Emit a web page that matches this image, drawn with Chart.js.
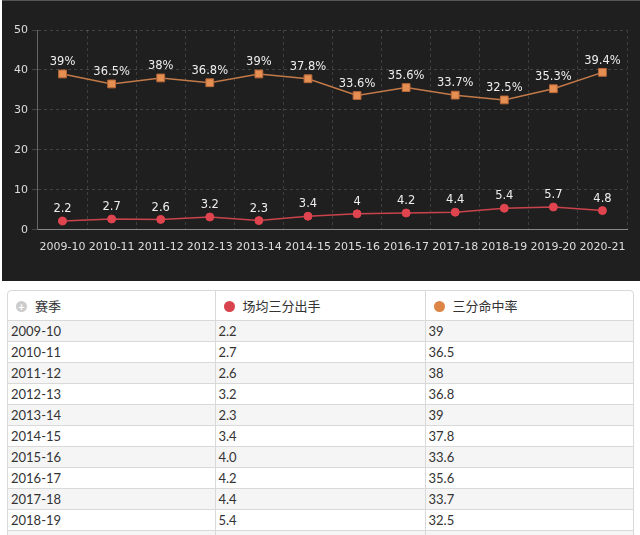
<!DOCTYPE html>
<html>
<head>
<meta charset="utf-8">
<script src="https://cdn.jsdelivr.net/npm/chart.js@4"></script>
<style>
  html, body { margin: 0; padding: 0; background: #fff; width: 640px; height: 535px; overflow: hidden; }
  #panel { position: absolute; left: 2px; top: 0; width: 638px; height: 281px; background: #1f1f1f; border-top: 1px solid #555; box-sizing: border-box; }
  #panel canvas { display: block; }
  #wrap { position: absolute; left: 7px; top: 290px; width: 625px; border: 1px solid #d9d9d9; border-radius: 4px; overflow: hidden; }
  table { border-collapse: collapse; width: 100%; font-family: Lato, "Noto Sans CJK SC", sans-serif; font-size: 13px; color: #333; table-layout: fixed; }
  th, td { border-right: 1px solid #d9d9d9; border-bottom: 1px solid #d9d9d9; text-align: left; padding: 0 3px; }
  th:last-child, td:last-child { border-right: none; }
  th { height: 29px; font-weight: normal; padding-left: 8px; }
  td { height: 20px; }
  tbody tr:nth-child(odd) { background: #f5f5f5; }
  .dot { display: inline-block; width: 11px; height: 11px; border-radius: 50%; vertical-align: -1px; margin-right: 8px; }
  .plus { display: inline-block; width: 11px; height: 11px; border-radius: 50%; background: #ccc; color: #fff; font-size: 11px; line-height: 11px; text-align: center; margin-right: 8px; font-weight: bold; }
</style>
</head>
<body>
<div id="panel"><canvas id="chart" width="638" height="280"></canvas></div>
<div id="wrap">
  <table>
    <colgroup><col style="width:207px"><col style="width:210px"><col></colgroup>
    <thead>
      <tr>
        <th><span class="plus">+</span>赛季</th>
        <th><span class="dot" style="background:#d9434d"></span>场均三分出手</th>
        <th><span class="dot" style="background:#dd8447"></span>三分命中率</th>
      </tr>
    </thead>
    <tbody id="rows"></tbody>
  </table>
</div>
<script>
// seasons
const seasons = ["2009-10", "2010-11", "2011-12", "2012-13", "2013-14", "2014-15", "2015-16", "2016-17", "2017-18", "2018-19", "2019-20", "2020-21"];
// 场均三分出手
const attempts = [2.2, 2.7, 2.6, 3.2, 2.3, 3.4, 4.0, 4.2, 4.4, 5.4, 5.7, 4.8];
// 三分命中率
const pct = [39, 36.5, 38, 36.8, 39, 37.8, 33.6, 35.6, 33.7, 32.5, 35.3, 39.4];
const yTicks = [0, 10, 20, 30, 40, 50];

// table
const tbody = document.getElementById("rows");
for (let i = 0; i < seasons.length; i++) {
  const tr = document.createElement("tr");
  tr.innerHTML = "<td>" + seasons[i] + "</td><td>" + attempts[i].toFixed(1) + "</td><td>" + pct[i] + "</td>";
  tbody.appendChild(tr);
}

// labels above points
const valueLabels = {
  id: "valueLabels",
  afterDatasetsDraw(chart) {
    const ctx = chart.ctx;
    ctx.save();
    ctx.font = "11.5px 'DejaVu Sans'";
    ctx.fillStyle = "#eeeeee";
    ctx.textAlign = "center";
    ctx.textBaseline = "bottom";
    chart.data.datasets.forEach((ds, i) => {
      const meta = chart.getDatasetMeta(i);
      meta.data.forEach((pt, j) => {
        ctx.fillText(ds.data[j] + (ds.suffix || ""), pt.x, pt.y - 6);
      });
    });
    ctx.restore();
  },
};

const tickFont = { family: "DejaVu Sans", size: 11 };

const myChart = new Chart(document.getElementById("chart"), {
  type: "line",
  data: {
    labels: seasons,
    datasets: [
      {
        label: "场均三分出手",
        data: attempts,
        borderColor: "#c9434c",
        backgroundColor: "#e0444f",
        borderWidth: 1.5,
        pointRadius: 4,
        pointBorderWidth: 1,
        pointBorderColor: "#e0444f",
      },
      {
        label: "三分命中率",
        data: pct,
        suffix: "%",
        borderColor: "#c47a48",
        backgroundColor: "#e58f52",
        borderWidth: 1.5,
        pointStyle: "rect",
        pointRadius: 5.5,
        pointBorderWidth: 1,
        pointBorderColor: "#b8683a",
      },
    ],
  },
  options: {
    responsive: false,
    animation: false,
    layout: { padding: { top: 29, right: 13, bottom: 16, left: 8 } },
    plugins: {
      legend: { display: false },
      tooltip: { enabled: false },
    },
    scales: {
      x: {
        offset: true,
        grid: { offset: true, color: "rgba(255,255,255,0.14)", drawTicks: false },
        border: { color: "#888", dash: [3, 3] },
        ticks: { color: "#dddddd", font: tickFont, padding: 11, maxRotation: 0, autoSkip: false },
      },
      y: {
        min: 0,
        max: 50,
        afterBuildTicks: (axis) => { axis.ticks = yTicks.map((v) => ({ value: v })); },
        grid: { color: "rgba(255,255,255,0.16)", tickLength: 6 },
        border: { color: "#666", dash: [3, 3] },
        ticks: { color: "#dddddd", font: tickFont, padding: 4 },
      },
    },
  },
  plugins: [valueLabels],
});
</script>
</body>
</html>
